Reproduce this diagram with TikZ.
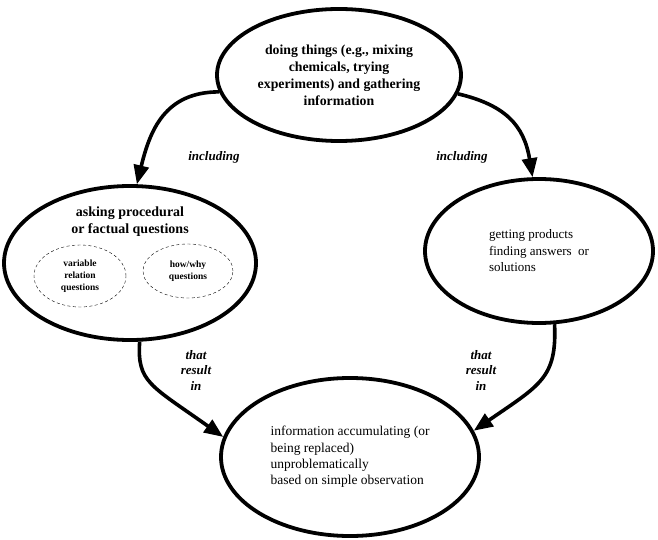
\documentclass[tikz,border=0pt]{standalone}
\usepackage{fontspec}
\setmainfont{Liberation Serif}
\usepackage{tikz}
\usetikzlibrary{arrows.meta,positioning,shapes.geometric}
\tikzset{
  Oval/.style={draw, ellipse, line width=3.8pt, inner sep=0pt},
  Dotoval/.style={draw, ellipse, thin, dash pattern=on 3pt off 2.5pt,
                  inner sep=0pt, align=center,
                  font=\fontsize{9.5}{12}\selectfont\bfseries},
  Link/.style={-{Triangle[length=19pt,width=15pt]}, line width=3.6pt},
  Tag/.style={align=center, font=\fontsize{13}{15.5}\selectfont\bfseries\itshape}
}
\begin{document}
\begin{tikzpicture}[x=1pt, y=-1pt]
  \useasboundingbox (0,0) rectangle (658,540);
  % ovals
  \node[Oval, minimum width=244pt, minimum height=132pt, align=center,
        font=\fontsize{13.8}{17}\selectfont\bfseries] (doing) at (339,75)
        {doing things (e.g., mixing\\chemicals, trying\\experiments) and gathering\\information};
  \node[Oval, minimum width=252pt, minimum height=154pt] (asking) at (130,263) {};
  \node[align=center, font=\fontsize{14}{17}\selectfont\bfseries] (askingtxt) at (130,222)
        {asking procedural\\or factual questions};
  \node[Dotoval, minimum width=92pt, minimum height=62pt] (varrel) at (80,276)
        {variable\\relation\\questions};
  \node[Dotoval, minimum width=90pt, minimum height=54pt] (howwhy) at (188,271)
        {how/why\\questions};
  \node[Oval, minimum width=228pt, minimum height=144pt, align=left,
        font=\fontsize{13}{16.5}\selectfont] (getting) at (539,251)
        {getting products\\finding answers\ \ or\\solutions};
  \node[Oval, minimum width=258pt, minimum height=158pt, align=left,
        font=\fontsize{13.5}{16.4}\selectfont] (info) at (350,457)
        {information accumulating (or\\being replaced)\\unproblematically\\based on simple observation};
  % labels
  \node[Tag] (incl1) at (214,157) {including};
  \node[Tag] (incl2) at (462,157) {including};
  \node[Tag] (res1) at (196,370) {that\\result\\in};
  \node[Tag] (res2) at (481,370) {that\\result\\in};
  % links
  \draw[Link] (doing.188) .. controls (165,92) and (150,130) .. (asking.85);
  \draw[Link] (doing.351) .. controls (505,105) and (524,125) .. (getting.95);
  \draw[Link] (asking.277) .. controls (137,382) and (150,385) .. (info.171);
  \draw[Link] (getting.282) .. controls (557,378) and (540,385) .. (info.12);
\end{tikzpicture}
\end{document}
